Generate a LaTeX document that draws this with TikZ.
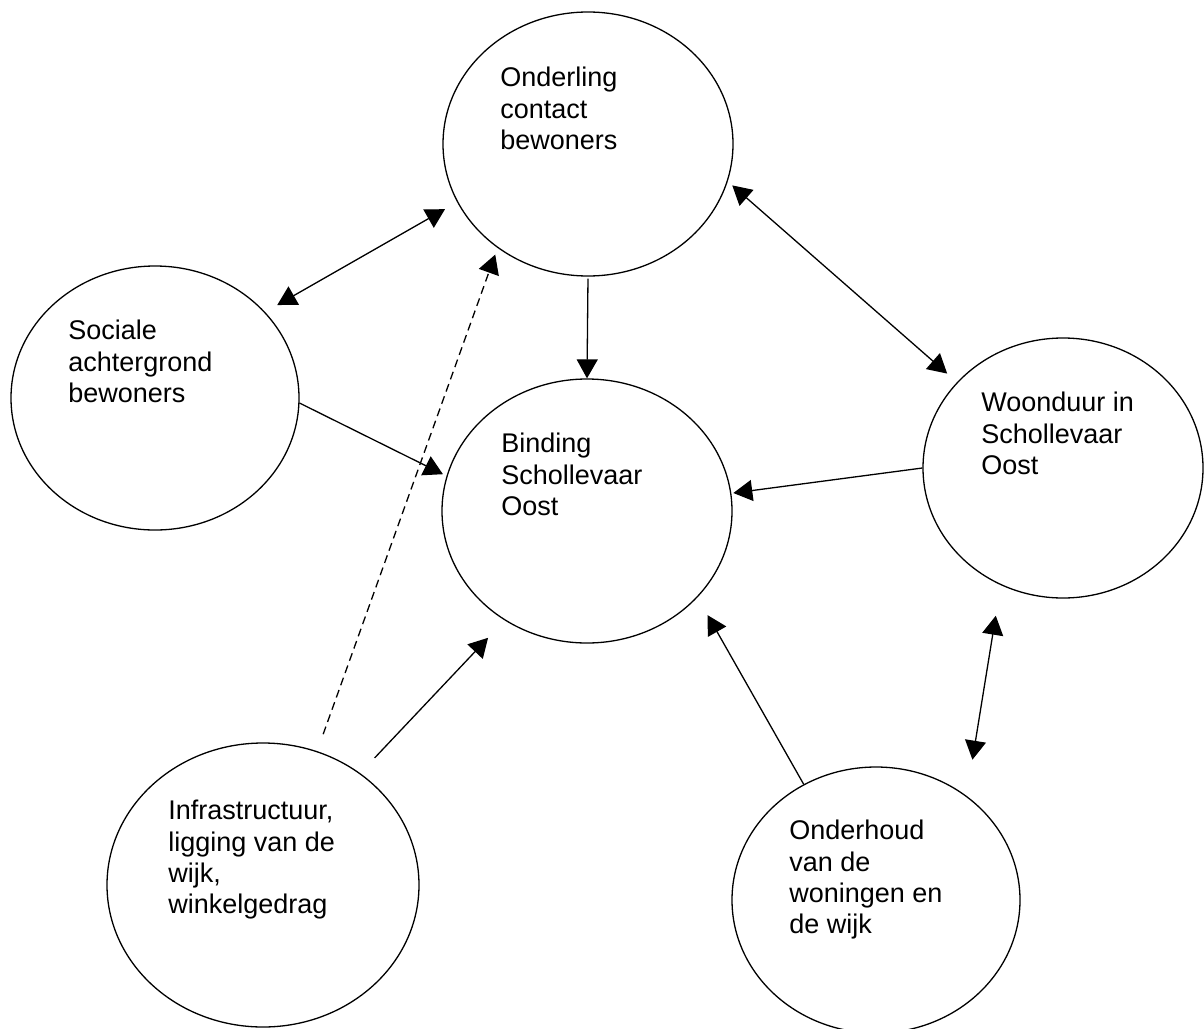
\documentclass[tikz,border=0pt]{standalone}
\usepackage{fontspec}
\setmainfont{Liberation Sans}
\usetikzlibrary{arrows.meta,shapes.geometric}

\begin{document}
\begin{tikzpicture}[x=0.5pt,y=-0.5pt,>={Triangle[length=9.5pt,width=10.5pt]}]
\tikzstyle{factor} = [ellipse, draw, line width=0.65pt, inner sep=0pt,
minimum width=145pt, minimum height=132pt]
\tikzstyle{txt} = [anchor=north west, inner sep=0pt, align=left,
font=\fontsize{13.5}{15.6}\selectfont]
\tikzstyle{line} = [draw, line width=0.65pt, ->]
\tikzstyle{twoway} = [draw, line width=0.65pt, <->]
\useasboundingbox (0,0) rectangle (1204,1028);
% ellipses
\node [factor] (contact) at (588,144) {};
\node [factor, minimum width=144pt] (social) at (155,398) {};
\node [factor] (binding) at (587,511) {};
\node [factor, minimum width=140pt, minimum height=130pt] (duration) at (1063,468) {};
\node [factor, minimum width=156pt, minimum height=142pt] (infra) at (263,885) {};
\node [factor, minimum width=144pt, minimum height=133pt] (upkeep) at (876,900) {};
% texts
\node [txt] (contact-t) at (500,67) {Onderling\\contact\\bewoners};
\node [txt] (social-t) at (68,320) {Sociale\\achtergrond\\bewoners};
\node [txt] (binding-t) at (501,433) {Binding\\Schollevaar\\Oost};
\node [txt] (duration-t) at (981,392) {Woonduur in\\Schollevaar\\Oost};
\node [txt] (infra-t) at (168,800) {Infrastructuur,\\ligging van de\\wijk,\\winkelgedrag};
\node [txt] (upkeep-t) at (789,820) {Onderhoud\\van de\\woningen en\\de wijk};
% arrows
\path [twoway, shorten <=7pt, shorten >=7pt] (social.38) -- (contact.204);
\path [line, dash pattern=on 4pt off 2.5pt, shorten <=9pt, shorten >=3.5pt] (infra.68) -- (contact.229);
\path [line, shorten <=1pt] (contact.south) -- (binding.north);
\path [line, shorten >=2pt] (social.-2) -- (binding.166);
\path [twoway, shorten <=3pt, shorten >=6.5pt] (contact.-15) -- (duration.141);
\path [line, shorten >=1pt] (duration.west) -- (binding.7);
\path [line, shorten <=10.5pt, shorten >=12pt] (infra.49) -- (binding.233);
\path [line, shorten >=10.25pt] (upkeep.122) -- (binding.-38);
\path [twoway, shorten <=15.5pt, shorten >=18.3pt] (duration.242) -- (upkeep.49);
\end{tikzpicture}
\end{document}
